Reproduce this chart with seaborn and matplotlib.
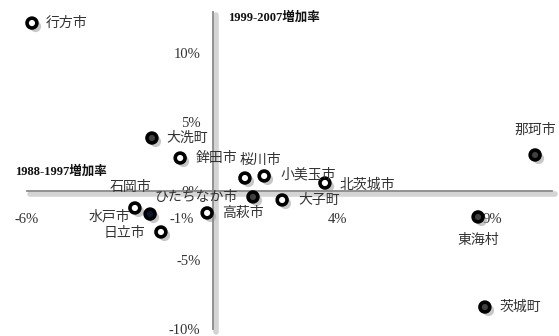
import matplotlib
matplotlib.use("Agg")
import matplotlib.pyplot as plt
import matplotlib.transforms as mtransforms
import pandas as pd
import seaborn as sns

cities = ["行方市", "大洗町", "鉾田市", "桜川市", "小美玉市", "北茨城市", "ひたちなか市",
          "大子町", "高萩市", "石岡市", "水戸市", "日立市", "東海村", "茨城町", "那珂市"]
growth_1988_1997 = [-5.84, -1.97, -1.06, 1.03, 1.65, 3.61, 1.29,
                    2.23, -0.19, -2.52, -2.03, -1.68, 8.55, 8.77, 10.39]
growth_1999_2007 = [12.17, 3.84, 2.39, 0.94, 1.09, 0.58, -0.43,
                    -0.65, -1.59, -1.23, -1.67, -2.97, -1.88, -8.41, 2.61]
kind = ["open", "dark", "open", "open", "open", "open", "dark",
        "open", "open", "open", "navy", "open", "dark", "dark", "dark"]
x_ticks = [-6, -1, 4, 9]
y_ticks = [-10, -5, 0, 5, 10]

# label placement: dx, dy (pixels), ha
label_pos = {
    "行方市": (14, 0, "left"), "大洗町": (14, 0, "left"), "鉾田市": (16, 0, "left"),
    "桜川市": (-5, 18, "left"), "小美玉市": (16, 1, "left"), "北茨城市": (15, -2, "left"),
    "ひたちなか市": (-15, 0, "right"), "大子町": (16, 0, "left"), "高萩市": (15, 0, "left"),
    "石岡市": (-4, 21, "center"), "水戸市": (-20, -2, "right"), "日立市": (-16, -1, "right"),
    "東海村": (0, -23, "center"), "茨城町": (15, 0, "left"), "那珂市": (0, 25, "center"),
}

df = pd.DataFrame({"city": cities, "x": growth_1988_1997, "y": growth_1999_2007, "kind": kind})

sns.set_style("white")
plt.rcParams["font.family"] = ["Noto Sans CJK JP", "DejaVu Sans"]

fig = plt.figure(figsize=(5.59, 3.36), dpi=100)
ax = fig.add_axes([0, 0, 1, 1])
ax.set_xlim(-213 / 31, 346 / 31)
ax.set_ylim(-145 / 13.8, 191 / 13.8)

# shadow under axes lines
shadow = mtransforms.ScaledTranslation(3 / 100, -3 / 100, fig.dpi_scale_trans)
ax.plot([-6, 10.95], [0, 0], color="#d4d4d4", lw=4, transform=ax.transData + shadow, zorder=1)
ax.plot([0, 0], [-10, 13], color="#d4d4d4", lw=4, transform=ax.transData + shadow, zorder=1)

for side in ["top", "right"]:
    ax.spines[side].set_visible(False)
ax.spines["left"].set_position(("data", 0))
ax.spines["bottom"].set_position(("data", 0))
ax.spines["left"].set_bounds(-10, 13)
ax.spines["bottom"].set_bounds(-6, 10.95)
for side in ["left", "bottom"]:
    ax.spines[side].set_color("#8a8a8a")
    ax.spines[side].set_linewidth(1.3)

ax.set_xticks(x_ticks)
ax.set_yticks(y_ticks)
ax.set_xticklabels([f"{t}%" for t in x_ticks], family=["Liberation Serif"], fontsize=10.5, color="#333333")
ax.set_yticklabels([f"{t}%" for t in y_ticks], family=["Liberation Serif"], fontsize=10.5, color="#333333")
ax.tick_params(axis="x", direction="inout", length=5, color="#8a8a8a", pad=13)
ax.tick_params(axis="y", direction="out", length=3, color="#8a8a8a", pad=6)

# marker shadows
sns.scatterplot(data=df, x="x", y="y", color="#9a9a9a", alpha=0.55, s=65,
                linewidth=0, legend=False, ax=ax, zorder=2)
ax.collections[-1].set_offset_transform(ax.transData + shadow)

sns.scatterplot(data=df, x="x", y="y", hue="kind",
                palette={"open": "white", "dark": "#404040", "navy": "#0b1733"},
                edgecolor="black", linewidth=2.6, s=50, legend=False, ax=ax, zorder=3)

for name, xv, yv in zip(cities, growth_1988_1997, growth_1999_2007):
    dx, dy, ha = label_pos[name]
    ax.annotate(name, (xv, yv), xytext=(dx, dy), textcoords="offset pixels",
                ha=ha, va="center", fontsize=10, color="#333333", zorder=4)

ax.set_xlabel("")
ax.set_ylabel("")
ax.text(228 / 559, 1 - 17 / 336, "1999-2007増加率", transform=ax.transAxes,
        family=["Liberation Serif", "Noto Sans CJK JP"], fontweight="bold",
        fontsize=9, va="center", ha="left", color="#111111")
ax.text(15 / 559, 1 - 171 / 336, "1988-1997増加率", transform=ax.transAxes,
        family=["Liberation Serif", "Noto Sans CJK JP"], fontweight="bold",
        fontsize=9, va="center", ha="left", color="#111111")

fig.savefig("out.png", dpi=100)
